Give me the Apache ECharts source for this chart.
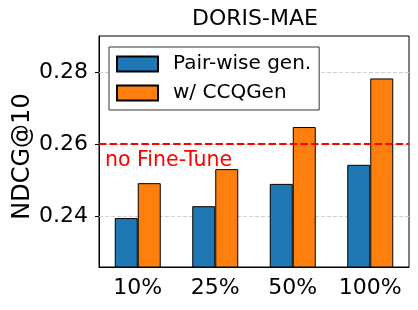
<!DOCTYPE html>
<html><head><meta charset="utf-8">
<script src="https://cdn.jsdelivr.net/npm/echarts@6/dist/echarts.min.js"></script>
<style>html,body{margin:0;padding:0;background:#fff}#c{width:418px;height:310px}</style>
</head><body><div id="c"></div>
<script>
const categories = ['10%', '25%', '50%', '100%'];
const pairwise = [0.2394, 0.2427, 0.2489, 0.2542];
const ccqgen = [0.2491, 0.2530, 0.2647, 0.2782];
const noFineTune = 0.2603;
const yTicks = [0.24, 0.26, 0.28];
const yMin = 0.2258, yMax = 0.29;

const F = 'DejaVu Sans';
const chart = echarts.init(document.getElementById('c'), null, {renderer: 'canvas'});
chart.setOption({
  animation: false,
  backgroundColor: '#fff',
  title: {
    text: 'DORIS-MAE', left: 187, top: 3,
    textStyle: {fontFamily: F, fontSize: 22, fontWeight: 'normal', color: '#000'}
  },
  grid: {left: 99, right: 9, top: 36, bottom: 43, containLabel: false, outerBoundsMode: 'none',
    show: true, borderColor: '#000', borderWidth: 1, backgroundColor: '#fff'},
  legend: {
    orient: 'vertical', left: 109, top: 47,
    padding: [7, 8, 7, 7], itemWidth: 41, itemHeight: 15, itemGap: 9,
    borderColor: '#333', borderWidth: 1, borderRadius: 0, backgroundColor: '#fff',
    icon: 'rect',
    textStyle: {fontFamily: F, fontSize: 20, color: '#000', lineHeight: 15, padding: [0, 0, 0, 10]},
    z: 10
  },
  xAxis: {
    type: 'category', data: categories,
    axisLine: {lineStyle: {color: '#000', width: 1}},
    axisTick: {alignWithLabel: true, length: 4, lineStyle: {color: '#000'}},
    axisLabel: {interval: 0, fontFamily: F, fontSize: 22, color: '#000', margin: 10}
  },
  yAxis: {
    type: 'value', min: yMin, max: yMax,
    name: 'NDCG@10', nameLocation: 'middle', nameGap: 64, nameMoveOverlap: false,
    nameTextStyle: {fontFamily: F, fontSize: 24, color: '#000', padding: [0, 10, 0, 0]},
    axisLine: {show: true, lineStyle: {color: '#000', width: 1}},
    axisTick: {show: true, length: 4, customValues: yTicks, lineStyle: {color: '#000'}},
    axisLabel: {fontFamily: F, fontSize: 22, color: '#000', margin: 11, customValues: yTicks, formatter: v => v.toFixed(2)},
    splitLine: {show: false}
  },
  series: [
    {
      name: 'Pair-wise gen.', type: 'bar', data: pairwise, barWidth: 23, barGap: '0%',
      itemStyle: {color: '#1f77b4', borderColor: '#000', borderWidth: 1},
      markLine: {
        silent: true, symbol: 'none', z: 1, animation: false,
        lineStyle: {color: '#cfcfcf', type: [4, 2], width: 1},
        label: {show: false},
        data: yTicks.map(v => ({yAxis: v}))
      }
    },
    {
      name: 'w/ CCQGen', type: 'bar', data: ccqgen, barWidth: 23, barGap: '0%',
      itemStyle: {color: '#ff7f0e', borderColor: '#000', borderWidth: 1},
      markLine: {
        silent: true, symbol: 'none', z: 6, animation: false,
        lineStyle: {color: '#ff0000', type: [7.4, 3.2], width: 2},
        label: {show: true, position: 'insideStartBottom', formatter: 'no Fine-Tune', color: '#ff0000', fontFamily: F, fontSize: 20.5, distance: [6, 6]},
        data: [{yAxis: noFineTune}]
      }
    }
  ]
});
</script></body></html>
